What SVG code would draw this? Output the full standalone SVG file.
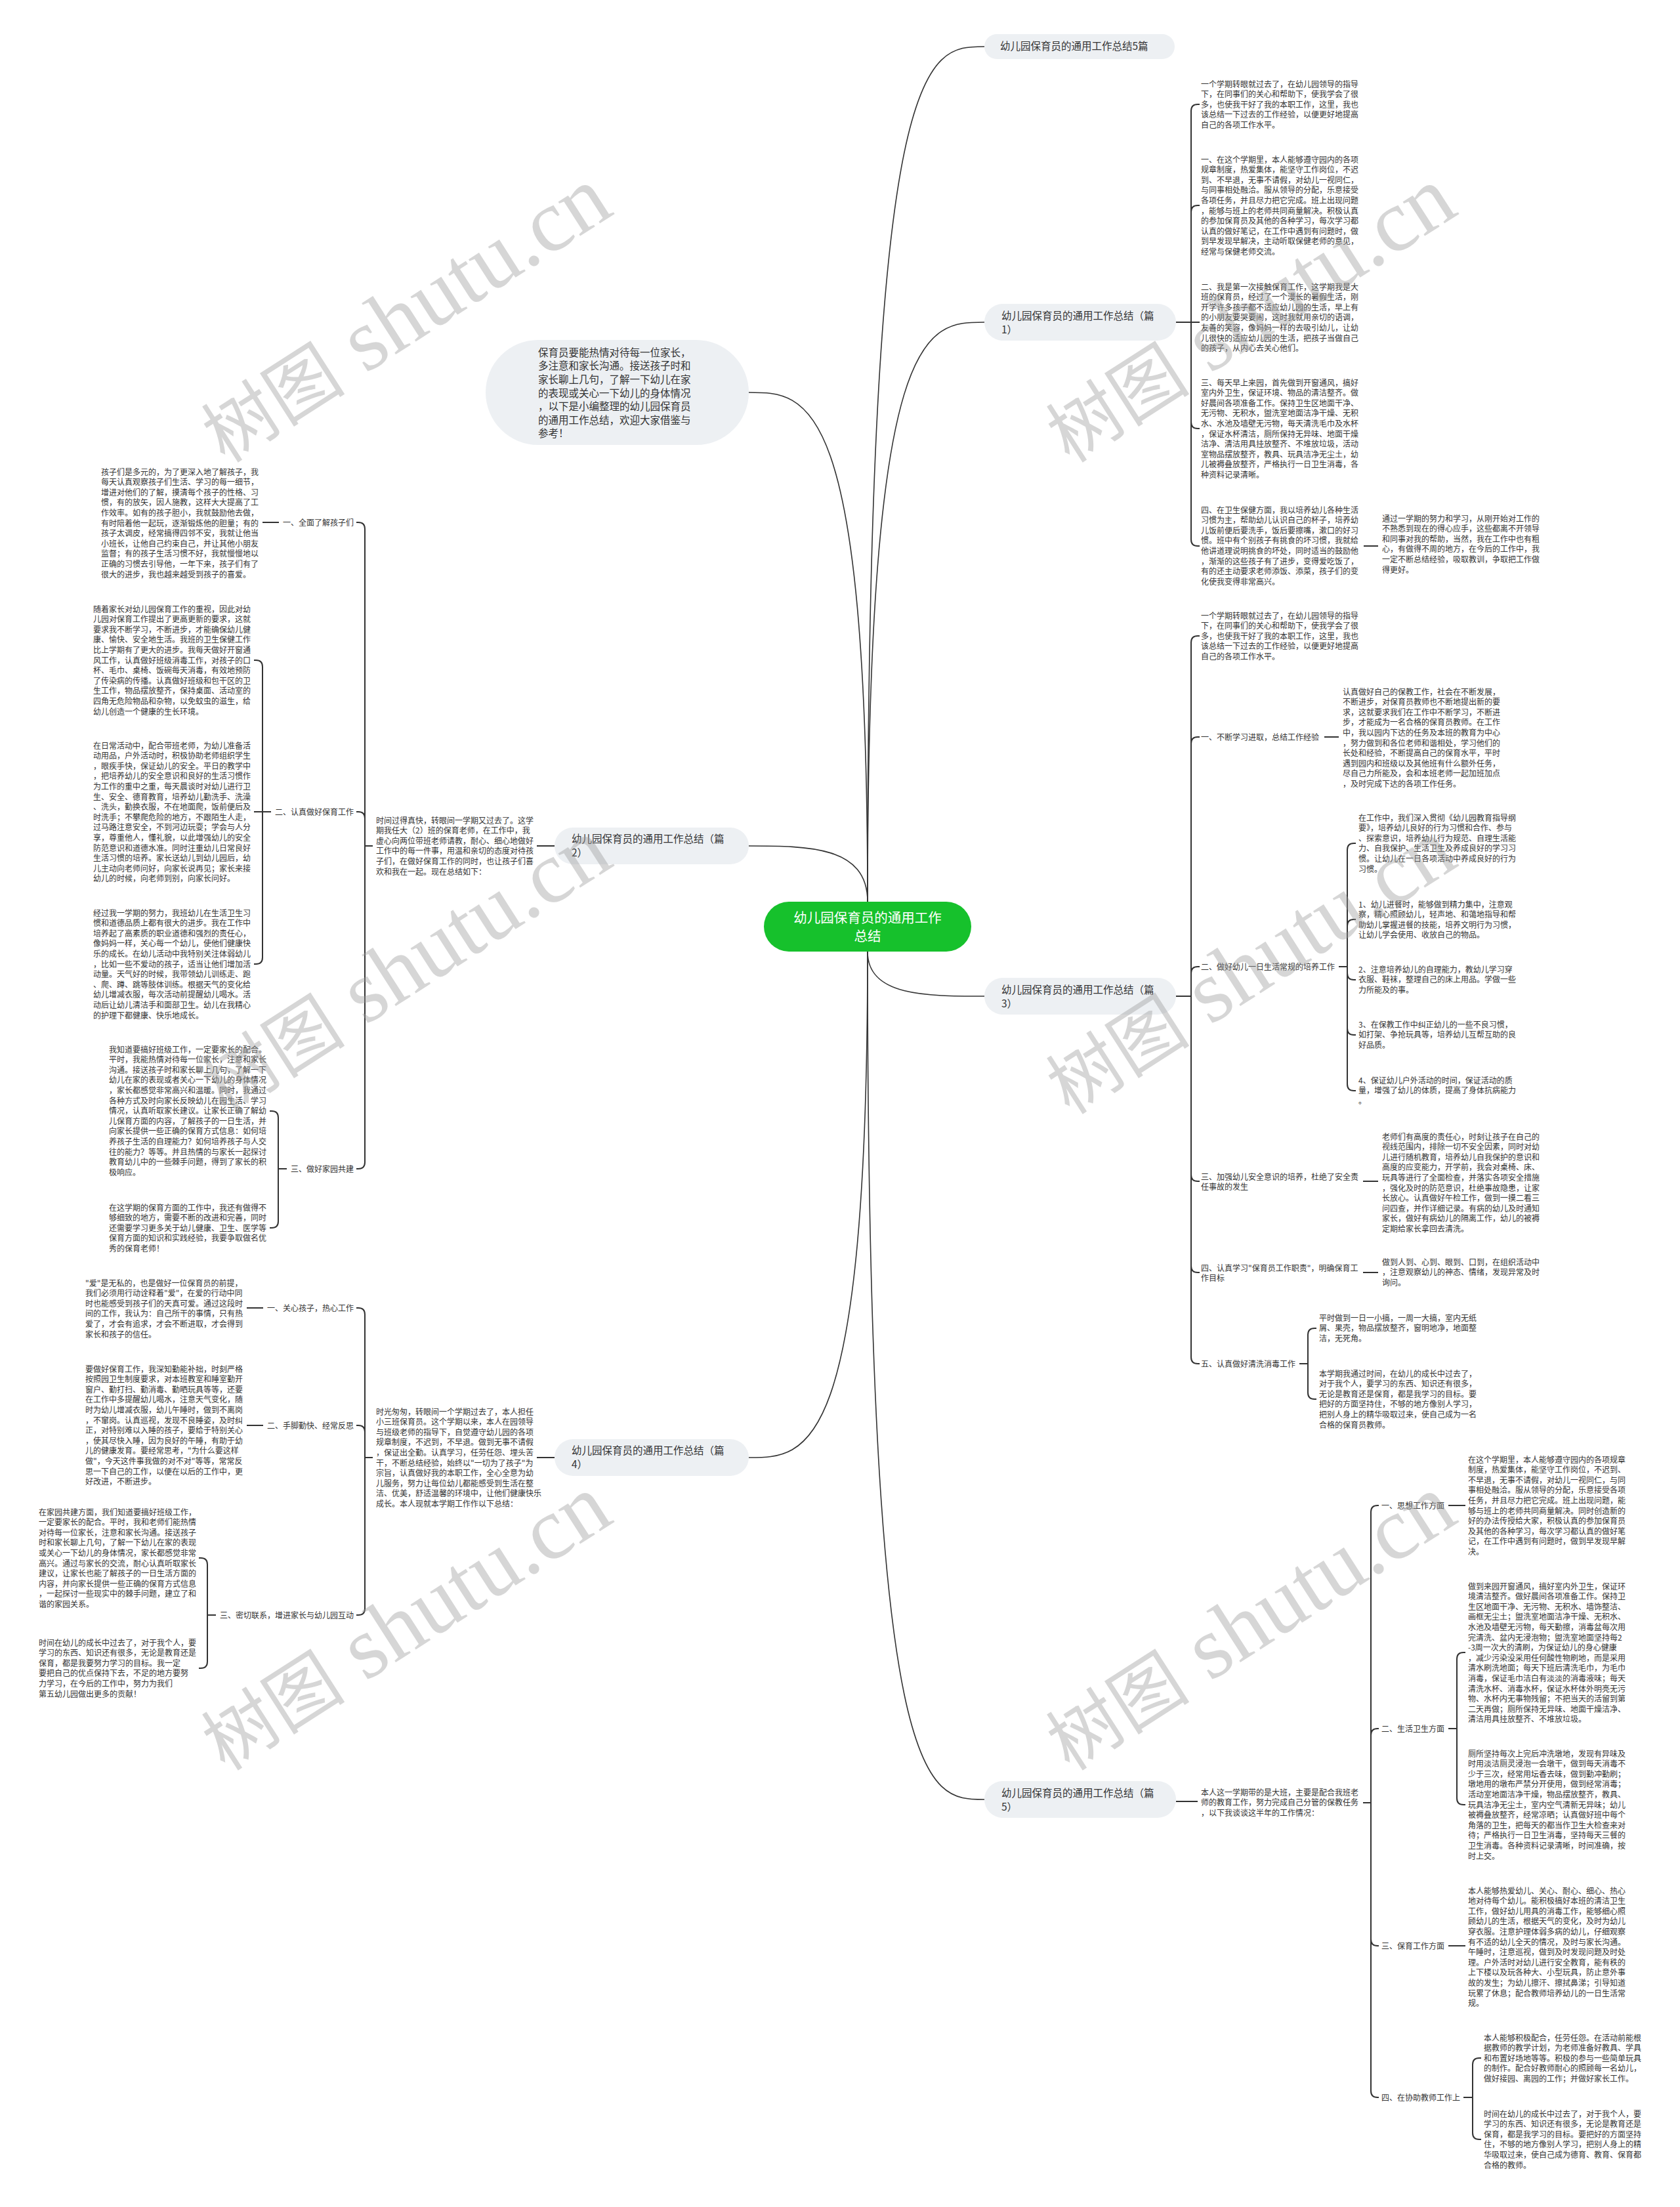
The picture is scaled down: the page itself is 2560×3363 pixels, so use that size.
<svg xmlns="http://www.w3.org/2000/svg" width="2560" height="3363" viewBox="0 0 2560 3363">
<style>
.t{font-family:"Noto Sans CJK SC","Noto Sans",sans-serif;font-size:12px;fill:#333}
.p{font-family:"Noto Sans CJK SC","Noto Sans",sans-serif;font-size:15.5px;fill:#333}
.c{font-family:"Noto Sans CJK SC","Noto Sans",sans-serif;font-size:20.5px;fill:#fff;text-anchor:middle}
.pill{fill:#edf0f3}
.ln{fill:none;stroke:#333;stroke-width:2}
.mc{fill:none;stroke:#333;stroke-width:1.6}
.wm{font-family:"Liberation Serif","Noto Sans CJK SC",serif;fill:#9a9a9a;opacity:0.4}
.e{text-anchor:end}
</style>
<rect width="2560" height="3363" fill="#fff"/>
<g id="connectors">
<path class="mc" d="M1322 1374 C1322 71 1411 71 1500 71"/>
<path class="mc" d="M1322 1374 C1322 491 1411 491 1500 491"/>
<path class="mc" d="M1322 1374 C1322 598 1231 598 1141 598"/>
<path class="mc" d="M1322 1374 C1322 1289 1231 1289 1141 1289"/>
<path class="mc" d="M1322 1450 C1322 1518 1411 1518 1500 1518"/>
<path class="mc" d="M1322 1450 C1322 2221 1231 2221 1141 2221"/>
<path class="mc" d="M1322 1450 C1322 2742 1411 2742 1500 2742"/>
<path class="ln" d="M1792 491 H1815 V169 Q1815 159 1825 159 H1828"/>
<path class="ln" d="M1792 491 H1815 V323 Q1815 313 1825 313 H1828"/>
<path class="ln" d="M1792 491 H1828"/>
<path class="ln" d="M1792 491 H1815 V643 Q1815 653 1825 653 H1828"/>
<path class="ln" d="M1792 491 H1815 V822 Q1815 832 1825 832 H1828"/>
<path class="ln" d="M2078 832 H2100"/>
<path class="ln" d="M1792 1518 H1815 V979 Q1815 969 1825 969 H1828"/>
<path class="ln" d="M1792 1518 H1815 V1133 Q1815 1123 1825 1123 H1828"/>
<path class="ln" d="M1792 1518 H1815 V1483 Q1815 1473 1825 1473 H1828"/>
<path class="ln" d="M1792 1518 H1815 V1790 Q1815 1800 1825 1800 H1828"/>
<path class="ln" d="M1792 1518 H1815 V1929 Q1815 1939 1825 1939 H1828"/>
<path class="ln" d="M1792 1518 H1815 V2068 Q1815 2078 1825 2078 H1828"/>
<path class="ln" d="M2018 1123 H2040"/>
<path class="ln" d="M2040 1473 H2053 V1295 Q2053 1285 2063 1285 H2066"/>
<path class="ln" d="M2040 1473 H2053 V1411 Q2053 1401 2063 1401 H2066"/>
<path class="ln" d="M2040 1473 H2053 V1483 Q2053 1493 2063 1493 H2066"/>
<path class="ln" d="M2040 1473 H2053 V1567 Q2053 1577 2063 1577 H2066"/>
<path class="ln" d="M2040 1473 H2053 V1652 Q2053 1662 2063 1662 H2066"/>
<path class="ln" d="M2077 1800 H2100"/>
<path class="ln" d="M2077 1939 H2100"/>
<path class="ln" d="M1980 2078 H1993 V2034 Q1993 2024 2003 2024 H2006"/>
<path class="ln" d="M1980 2078 H1993 V2122 Q1993 2132 2003 2132 H2006"/>
<path class="ln" d="M1792 2745 H1825"/>
<path class="ln" d="M2077 2747 H2089 V2304 Q2089 2294 2099 2294 H2101"/>
<path class="ln" d="M2077 2747 H2089 V2644 Q2089 2634 2099 2634 H2101"/>
<path class="ln" d="M2077 2747 H2089 V2955 Q2089 2965 2099 2965 H2101"/>
<path class="ln" d="M2077 2747 H2089 V3186 Q2089 3196 2099 3196 H2101"/>
<path class="ln" d="M2207 2294 H2233"/>
<path class="ln" d="M2207 2634 H2220 V2528 Q2220 2518 2230 2518 H2233"/>
<path class="ln" d="M2207 2634 H2220 V2740 Q2220 2750 2230 2750 H2233"/>
<path class="ln" d="M2207 2965 H2233"/>
<path class="ln" d="M2230 3196 H2244 V3146 Q2244 3136 2254 3136 H2257"/>
<path class="ln" d="M2230 3196 H2244 V3250 Q2244 3260 2254 3260 H2257"/>
<path class="ln" d="M845 1289 H818"/>
<path class="ln" d="M568 1289 H556 V806 Q556 796 546 796 H543"/>
<path class="ln" d="M568 1289 H556 V1247 Q556 1237 546 1237 H543"/>
<path class="ln" d="M568 1289 H556 V1771 Q556 1781 546 1781 H543"/>
<path class="ln" d="M425 796 H400"/>
<path class="ln" d="M413 1237 H400 V1016 Q400 1006 390 1006 H387"/>
<path class="ln" d="M413 1237 H387"/>
<path class="ln" d="M413 1237 H400 V1459 Q400 1469 390 1469 H387"/>
<path class="ln" d="M437 1781 H424 V1703 Q424 1693 414 1693 H411"/>
<path class="ln" d="M437 1781 H424 V1861 Q424 1871 414 1871 H411"/>
<path class="ln" d="M845 2221 H818"/>
<path class="ln" d="M568 2221 H556 V2003 Q556 1993 546 1993 H543"/>
<path class="ln" d="M568 2221 H556 V2182 Q556 2172 546 2172 H543"/>
<path class="ln" d="M568 2221 H556 V2451 Q556 2461 546 2461 H543"/>
<path class="ln" d="M401 1993 H376"/>
<path class="ln" d="M401 2172 H376"/>
<path class="ln" d="M329 2461 H316 V2384 Q316 2374 306 2374 H303"/>
<path class="ln" d="M329 2461 H316 V2532 Q316 2542 306 2542 H303"/>
</g>

<g id="center">
<rect x="1164" y="1374" width="316" height="76" rx="38" fill="#16c12c"/>
<text class="c" x="1322" y="1405.5">幼儿园保育员的通用工作</text>
<text class="c" x="1322" y="1433.5">总结</text>
</g>

<g id="intro">
<rect class="pill" x="740" y="518" width="401" height="160" rx="80"/>
<text class="p" x="820" y="542.8"><tspan x="820">保育员要能热情对待每一位家长，</tspan><tspan x="820" dy="20.6">多注意和家长沟通。接送孩子时和</tspan><tspan x="820" dy="20.6">家长聊上几句，了解一下幼儿在家</tspan><tspan x="820" dy="20.6">的表现或关心一下幼儿的身体情况</tspan><tspan x="820" dy="20.6">，以下是小编整理的幼儿园保育员</tspan><tspan x="820" dy="20.6">的通用工作总结，欢迎大家借鉴与</tspan><tspan x="820" dy="20.6">参考！</tspan></text>
</g>

<g id="title5">
<rect class="pill" x="1500" y="52" width="290" height="38" rx="19"/>
<text class="p" x="1524" y="75.8">幼儿园保育员的通用工作总结5篇</text>
</g>

<g id="sec1">
<rect class="pill" x="1500" y="463" width="292" height="56" rx="28"/>
<text class="p" x="1526" y="486.8"><tspan x="1526">幼儿园保育员的通用工作总结（篇</tspan><tspan x="1526" dy="21">1）</tspan></text>
</g>
<g id="s1b1"><text class="t" x="1830" y="132.5"><tspan x="1830">一个学期转眼就过去了，在幼儿园领导的指导</tspan><tspan x="1830" dy="15.6">下，在同事们的关心和帮助下，使我学会了很</tspan><tspan x="1830" dy="15.6">多，也使我干好了我的本职工作，这里，我也</tspan><tspan x="1830" dy="15.6">该总结一下过去的工作经验，以便更好地提高</tspan><tspan x="1830" dy="15.6">自己的各项工作水平。</tspan></text></g>
<g id="s1b2"><text class="t" x="1830" y="247.5"><tspan x="1830">一、在这个学期里，本人能够遵守园内的各项</tspan><tspan x="1830" dy="15.6">规章制度，热爱集体，能坚守工作岗位，不迟</tspan><tspan x="1830" dy="15.6">到、不早退，无事不请假，对幼儿一视同仁，</tspan><tspan x="1830" dy="15.6">与同事相处融洽。服从领导的分配，乐意接受</tspan><tspan x="1830" dy="15.6">各项任务，并且尽力把它完成。班上出现问题</tspan><tspan x="1830" dy="15.6">，能够与班上的老师共同商量解决。积极认真</tspan><tspan x="1830" dy="15.6">的参加保育员及其他的各种学习，每次学习都</tspan><tspan x="1830" dy="15.6">认真的做好笔记，在工作中遇到有问题时，做</tspan><tspan x="1830" dy="15.6">到早发现早解决，主动听取保健老师的意见，</tspan><tspan x="1830" dy="15.6">经常与保健老师交流。</tspan></text></g>
<g id="s1b3"><text class="t" x="1830" y="441.5"><tspan x="1830">二、我是第一次接触保育工作，这学期我是大</tspan><tspan x="1830" dy="15.6">班的保育员，经过了一个漫长的暑假生活，刚</tspan><tspan x="1830" dy="15.6">开学许多孩子都不适应幼儿园的生活，早上有</tspan><tspan x="1830" dy="15.6">的小朋友要哭要闹，这时我就用亲切的语调，</tspan><tspan x="1830" dy="15.6">友善的笑容，像妈妈一样的去吸引幼儿，让幼</tspan><tspan x="1830" dy="15.6">儿很快的适应幼儿园的生活，把孩子当做自己</tspan><tspan x="1830" dy="15.6">的孩子，从内心去关心他们。</tspan></text></g>
<g id="s1b4"><text class="t" x="1830" y="587.5"><tspan x="1830">三、每天早上来园，首先做到开窗通风，搞好</tspan><tspan x="1830" dy="15.6">室内外卫生，保证环境、物品的清洁整齐。做</tspan><tspan x="1830" dy="15.6">好晨间各项准备工作。保持卫生区地面干净、</tspan><tspan x="1830" dy="15.6">无污物、无积水，盥洗室地面洁净干燥、无积</tspan><tspan x="1830" dy="15.6">水、水池及墙壁无污物，每天清洗毛巾及水杯</tspan><tspan x="1830" dy="15.6">，保证水杯清洁，厕所保持无异味、地面干燥</tspan><tspan x="1830" dy="15.6">洁净、清洁用具挂放整齐、不堆放垃圾，活动</tspan><tspan x="1830" dy="15.6">室物品摆放整齐，教具、玩具洁净无尘土，幼</tspan><tspan x="1830" dy="15.6">儿被褥叠放整齐，严格执行一日卫生消毒，各</tspan><tspan x="1830" dy="15.6">种资料记录清晰。</tspan></text></g>
<g id="s1b5"><text class="t" x="1830" y="781.5"><tspan x="1830">四、在卫生保健方面，我以培养幼儿各种生活</tspan><tspan x="1830" dy="15.6">习惯为主，帮助幼儿认识自己的杯子，培养幼</tspan><tspan x="1830" dy="15.6">儿饭前便后要洗手，饭后要擦嘴，漱口的好习</tspan><tspan x="1830" dy="15.6">惯。班中有个别孩子有挑食的坏习惯，我就给</tspan><tspan x="1830" dy="15.6">他讲道理说明挑食的坏处，同时适当的鼓励他</tspan><tspan x="1830" dy="15.6">，渐渐的这些孩子有了进步，变得爱吃饭了，</tspan><tspan x="1830" dy="15.6">有的还主动要求老师添饭、添菜，孩子们的变</tspan><tspan x="1830" dy="15.6">化使我变得非常高兴。</tspan></text></g>
<g id="s1b6"><text class="t" x="2106" y="794.5"><tspan x="2106">通过一学期的努力和学习，从刚开始对工作的</tspan><tspan x="2106" dy="15.6">不熟悉到现在的得心应手，这些都离不开领导</tspan><tspan x="2106" dy="15.6">和同事对我的帮助，当然，我在工作中也有粗</tspan><tspan x="2106" dy="15.6">心，有做得不周的地方，在今后的工作中，我</tspan><tspan x="2106" dy="15.6">一定不断总结经验，吸取教训，争取把工作做</tspan><tspan x="2106" dy="15.6">得更好。</tspan></text></g>

<g id="sec3">
<rect class="pill" x="1500" y="1490" width="292" height="56" rx="28"/>
<text class="p" x="1526" y="1513.8"><tspan x="1526">幼儿园保育员的通用工作总结（篇</tspan><tspan x="1526" dy="21">3）</tspan></text>
</g>
<g id="s3c1"><text class="t" x="1830" y="942.5"><tspan x="1830">一个学期转眼就过去了，在幼儿园领导的指导</tspan><tspan x="1830" dy="15.6">下，在同事们的关心和帮助下，使我学会了很</tspan><tspan x="1830" dy="15.6">多，也使我干好了我的本职工作，这里，我也</tspan><tspan x="1830" dy="15.6">该总结一下过去的工作经验，以便更好地提高</tspan><tspan x="1830" dy="15.6">自己的各项工作水平。</tspan></text></g>
<g id="s3l1"><text class="t" x="1830" y="1127.5">一、不断学习进取，总结工作经验</text></g>
<g id="s3l1t"><text class="t" x="2046" y="1058.5"><tspan x="2046">认真做好自己的保教工作，社会在不断发展，</tspan><tspan x="2046" dy="15.6">不断进步，对保育员教师也不断地提出新的要</tspan><tspan x="2046" dy="15.6">求，这就要求我们在工作中不断学习，不断进</tspan><tspan x="2046" dy="15.6">步，才能成为一名合格的保育员教师。在工作</tspan><tspan x="2046" dy="15.6">中，我以园内下达的任务及本班的教育为中心</tspan><tspan x="2046" dy="15.6">，努力做到和各位老师和谐相处，学习他们的</tspan><tspan x="2046" dy="15.6">长处和经验，不断提高自己的保育水平，平时</tspan><tspan x="2046" dy="15.6">遇到园内和班级以及其他班有什么额外任务，</tspan><tspan x="2046" dy="15.6">尽自己力所能及，会和本班老师一起加班加点</tspan><tspan x="2046" dy="15.6">，及时完成下达的各项工作任务。</tspan></text></g>
<g id="s3l2"><text class="t" x="1830" y="1477.5">二、做好幼儿一日生活常规的培养工作</text></g>
<g id="s3l2a"><text class="t" x="2070" y="1250.5"><tspan x="2070">在工作中，我们深入贯彻《幼儿园教育指导纲</tspan><tspan x="2070" dy="15.6">要》，培养幼儿良好的行为习惯和合作、参与</tspan><tspan x="2070" dy="15.6">、探索意识，培养幼儿行为规范、自理生活能</tspan><tspan x="2070" dy="15.6">力、自我保护、生活卫生及养成良好的学习习</tspan><tspan x="2070" dy="15.6">惯。让幼儿在一日各项活动中养成良好的行为</tspan><tspan x="2070" dy="15.6">习惯。</tspan></text></g>
<g id="s3l2b"><text class="t" x="2070" y="1382.5"><tspan x="2070">1、幼儿进餐时，能够做到精力集中，注意观</tspan><tspan x="2070" dy="15.6">察，精心照顾幼儿，轻声地、和蔼地指导和帮</tspan><tspan x="2070" dy="15.6">助幼儿掌握进餐的技能，培养文明行为习惯，</tspan><tspan x="2070" dy="15.6">让幼儿学会使用、收放自己的物品。</tspan></text></g>
<g id="s3l2c"><text class="t" x="2070" y="1481.5"><tspan x="2070">2、注意培养幼儿的自理能力，教幼儿学习穿</tspan><tspan x="2070" dy="15.6">衣服、鞋袜，整理自己的床上用品。学做一些</tspan><tspan x="2070" dy="15.6">力所能及的事。</tspan></text></g>
<g id="s3l2d"><text class="t" x="2070" y="1565.5"><tspan x="2070">3、在保教工作中纠正幼儿的一些不良习惯，</tspan><tspan x="2070" dy="15.6">如打架、争抢玩具等，培养幼儿互帮互助的良</tspan><tspan x="2070" dy="15.6">好品质。</tspan></text></g>
<g id="s3l2e"><text class="t" x="2070" y="1650.5"><tspan x="2070">4、保证幼儿户外活动的时间，保证活动的质</tspan><tspan x="2070" dy="15.6">量，增强了幼儿的体质，提高了身体抗病能力</tspan><tspan x="2070" dy="15.6">。</tspan></text></g>
<g id="s3l3"><text class="t" x="1830" y="1797.5"><tspan x="1830">三、加强幼儿安全意识的培养，杜绝了安全责</tspan><tspan x="1830" dy="15.6">任事故的发生</tspan></text></g>
<g id="s3l3t"><text class="t" x="2106" y="1736.5"><tspan x="2106">老师们有高度的责任心，时刻让孩子在自己的</tspan><tspan x="2106" dy="15.6">视线范围内，排除一切不安全因素，同时对幼</tspan><tspan x="2106" dy="15.6">儿进行随机教育，培养幼儿自我保护的意识和</tspan><tspan x="2106" dy="15.6">高度的应变能力，开学前，我会对桌椅、床、</tspan><tspan x="2106" dy="15.6">玩具等进行了全面检查，并落实各项安全措施</tspan><tspan x="2106" dy="15.6">，强化及时的防范意识，杜绝事故隐患，让家</tspan><tspan x="2106" dy="15.6">长放心。认真做好午检工作，做到一摸二看三</tspan><tspan x="2106" dy="15.6">问四查，并作详细记录。有病的幼儿及时通知</tspan><tspan x="2106" dy="15.6">家长，做好有病幼儿的隔离工作，幼儿的被褥</tspan><tspan x="2106" dy="15.6">定期给家长拿回去清洗。</tspan></text></g>
<g id="s3l4"><text class="t" x="1830" y="1936.5"><tspan x="1830">四、认真学习"保育员工作职责"，明确保育工</tspan><tspan x="1830" dy="15.6">作目标</tspan></text></g>
<g id="s3l4t"><text class="t" x="2106" y="1927.5"><tspan x="2106">做到人到、心到、眼到、口到，在组织活动中</tspan><tspan x="2106" dy="15.6">，注意观察幼儿的神态、情绪，发现异常及时</tspan><tspan x="2106" dy="15.6">询问。</tspan></text></g>
<g id="s3l5"><text class="t" x="1830" y="2082.5">五、认真做好清洗消毒工作</text></g>
<g id="s3l5a"><text class="t" x="2010" y="2012.5"><tspan x="2010">平时做到一日一小搞，一周一大搞，室内无纸</tspan><tspan x="2010" dy="15.6">屑、果壳，物品摆放整齐，窗明地净，地面整</tspan><tspan x="2010" dy="15.6">洁，无死角。</tspan></text></g>
<g id="s3l5b"><text class="t" x="2010" y="2097.5"><tspan x="2010">本学期我通过时间，在幼儿的成长中过去了，</tspan><tspan x="2010" dy="15.6">对于我个人，要学习的东西、知识还有很多，</tspan><tspan x="2010" dy="15.6">无论是教育还是保育，都是我学习的目标。要</tspan><tspan x="2010" dy="15.6">把好的方面坚持住，不够的地方像别人学习，</tspan><tspan x="2010" dy="15.6">把别人身上的精华吸取过来，使自己成为一名</tspan><tspan x="2010" dy="15.6">合格的保育员教师。</tspan></text></g>

<g id="sec5">
<rect class="pill" x="1500" y="2714" width="292" height="56" rx="28"/>
<text class="p" x="1526" y="2737.8"><tspan x="1526">幼儿园保育员的通用工作总结（篇</tspan><tspan x="1526" dy="21">5）</tspan></text>
</g>
<g id="s5i"><text class="t" x="1830" y="2735.5"><tspan x="1830">本人这一学期带的是大班，主要是配合我班老</tspan><tspan x="1830" dy="15.6">师的教育工作，努力完成自己分管的保教任务</tspan><tspan x="1830" dy="15.6">，以下我谈谈这半年的工作情况：</tspan></text></g>
<g id="s5l1"><text class="t" x="2105" y="2298.5">一、思想工作方面</text></g>
<g id="s5l1t"><text class="t" x="2237" y="2228.5"><tspan x="2237">在这个学期里，本人能够遵守园内的各项规章</tspan><tspan x="2237" dy="15.6">制度，热爱集体，能坚守工作岗位，不迟到、</tspan><tspan x="2237" dy="15.6">不早退，无事不请假，对幼儿一视同仁，与同</tspan><tspan x="2237" dy="15.6">事相处融洽。服从领导的分配，乐意接受各项</tspan><tspan x="2237" dy="15.6">任务，并且尽力把它完成。班上出现问题，能</tspan><tspan x="2237" dy="15.6">够与班上的老师共同商量解决。同时创造新的</tspan><tspan x="2237" dy="15.6">好的办法传授给大家，积极认真的参加保育员</tspan><tspan x="2237" dy="15.6">及其他的各种学习，每次学习都认真的做好笔</tspan><tspan x="2237" dy="15.6">记，在工作中遇到有问题时，做到早发现早解</tspan><tspan x="2237" dy="15.6">决。</tspan></text></g>
<g id="s5l2"><text class="t" x="2105" y="2638.5">二、生活卫生方面</text></g>
<g id="s5l2a"><text class="t" x="2237" y="2421.5"><tspan x="2237">做到来园开窗通风，搞好室内外卫生，保证环</tspan><tspan x="2237" dy="15.6">境清洁整齐。做好晨间各项准备工作。保持卫</tspan><tspan x="2237" dy="15.6">生区地面干净、无污物、无积水、墙饰整洁、</tspan><tspan x="2237" dy="15.6">画框无尘土；盥洗室地面洁净干燥、无积水、</tspan><tspan x="2237" dy="15.6">水池及墙壁无污物，每天勤擦，消毒盆每次用</tspan><tspan x="2237" dy="15.6">完清洗、盆内无浸泡物；盥洗室地面坚持每2</tspan><tspan x="2237" dy="15.6">-3周一次大的清刷，为保证幼儿的身心健康</tspan><tspan x="2237" dy="15.6">，减少污染没采用任何酸性物刷地，而是采用</tspan><tspan x="2237" dy="15.6">清水刷洗地面；每天下班后清洗毛巾，为毛巾</tspan><tspan x="2237" dy="15.6">消毒，保证毛巾洁白有淡淡的消毒液味；每天</tspan><tspan x="2237" dy="15.6">清洗水杯、消毒水杯，保证水杯体外明亮无污</tspan><tspan x="2237" dy="15.6">物、水杯内无事物残留；不把当天的活留到第</tspan><tspan x="2237" dy="15.6">二天再做；厕所保持无异味、地面干燥洁净、</tspan><tspan x="2237" dy="15.6">清洁用具挂放整齐、不堆放垃圾。</tspan></text></g>
<g id="s5l2b"><text class="t" x="2237" y="2676.5"><tspan x="2237">厕所坚持每次上完后冲洗墩地，发现有异味及</tspan><tspan x="2237" dy="15.6">时用淡洁厕灵浸泡一会墩干，做到每天消毒不</tspan><tspan x="2237" dy="15.6">少于三次，经常用坛香去味，做到勤冲勤刷；</tspan><tspan x="2237" dy="15.6">墩地用的墩布严禁分开使用，做到经常消毒；</tspan><tspan x="2237" dy="15.6">活动室地面洁净干燥，物品摆放整齐，教具、</tspan><tspan x="2237" dy="15.6">玩具洁净无尘土，室内空气清新无异味；幼儿</tspan><tspan x="2237" dy="15.6">被褥叠放整齐，经常凉晒；认真做好班中每个</tspan><tspan x="2237" dy="15.6">角落的卫生，把每天的都当作卫生大检查来对</tspan><tspan x="2237" dy="15.6">待；严格执行一日卫生消毒，坚持每天三餐的</tspan><tspan x="2237" dy="15.6">卫生消毒。各种资料记录清晰，时间准确，按</tspan><tspan x="2237" dy="15.6">时上交。</tspan></text></g>
<g id="s5l3"><text class="t" x="2105" y="2969.5">三、保育工作方面</text></g>
<g id="s5l3t"><text class="t" x="2237" y="2885.5"><tspan x="2237">本人能够热爱幼儿、关心、耐心、细心、热心</tspan><tspan x="2237" dy="15.6">地对待每个幼儿。能积极搞好本班的清洁卫生</tspan><tspan x="2237" dy="15.6">工作，做好幼儿用具的消毒工作，能够细心照</tspan><tspan x="2237" dy="15.6">顾幼儿的生活，根据天气的变化，及时为幼儿</tspan><tspan x="2237" dy="15.6">穿衣服。注意护理体弱多病的幼儿，仔细观察</tspan><tspan x="2237" dy="15.6">有不适的幼儿全天的情况，及时与家长沟通。</tspan><tspan x="2237" dy="15.6">午睡时，注意巡视，做到及时发现问题及时处</tspan><tspan x="2237" dy="15.6">理。户外活时对幼儿进行安全教育，能有秩的</tspan><tspan x="2237" dy="15.6">上下楼以及玩各种大、小型玩具，防止意外事</tspan><tspan x="2237" dy="15.6">故的发生；为幼儿擦汗、擦拭鼻涕；引导知道</tspan><tspan x="2237" dy="15.6">玩累了休息；配合教师培养幼儿的一日生活常</tspan><tspan x="2237" dy="15.6">规。</tspan></text></g>
<g id="s5l4"><text class="t" x="2105" y="3200.5">四、在协助教师工作上</text></g>
<g id="s5l4a"><text class="t" x="2261" y="3109.5"><tspan x="2261">本人能够积极配合，任劳任怨。在活动前能根</tspan><tspan x="2261" dy="15.6">据教师的教学计划，为老师准备好教具、学具</tspan><tspan x="2261" dy="15.6">和布置好场地等等。积极的参与一些简单玩具</tspan><tspan x="2261" dy="15.6">的制作。配合好教师耐心的照顾每一名幼儿，</tspan><tspan x="2261" dy="15.6">做好接园、离园的工作；并做好家长工作。</tspan></text></g>
<g id="s5l4b"><text class="t" x="2261" y="3225.5"><tspan x="2261">时间在幼儿的成长中过去了，对于我个人，要</tspan><tspan x="2261" dy="15.6">学习的东西、知识还有很多，无论是教育还是</tspan><tspan x="2261" dy="15.6">保育，都是我学习的目标。要把好的方面坚持</tspan><tspan x="2261" dy="15.6">住，不够的地方像别人学习，把别人身上的精</tspan><tspan x="2261" dy="15.6">华吸取过来，使自己成为德育、教育、保育都</tspan><tspan x="2261" dy="15.6">合格的教师。</tspan></text></g>

<g id="sec2">
<rect class="pill" x="845" y="1261" width="296" height="56" rx="28"/>
<text class="p" x="871" y="1283.8"><tspan x="871">幼儿园保育员的通用工作总结（篇</tspan><tspan x="871" dy="21">2）</tspan></text>
</g>
<g id="s2i"><text class="t" x="573" y="1254.5"><tspan x="573">时间过得真快，转眼间一学期又过去了。这学</tspan><tspan x="573" dy="15.6">期我任大（2）班的保育老师，在工作中，我</tspan><tspan x="573" dy="15.6">虚心向两位带班老师请教，耐心、细心地做好</tspan><tspan x="573" dy="15.6">工作中的每一件事，用温和亲切的态度对待孩</tspan><tspan x="573" dy="15.6">子们，在做好保育工作的同时，也让孩子们喜</tspan><tspan x="573" dy="15.6">欢和我在一起。现在总结如下：</tspan></text></g>
<g id="s2l1"><text class="t e" x="539" y="800.5">一、全面了解孩子们</text></g>
<g id="s2l1t"><text class="t" x="154" y="723.5"><tspan x="154">孩子们是多元的，为了更深入地了解孩子，我</tspan><tspan x="154" dy="15.6">每天认真观察孩子们生活、学习的每一细节，</tspan><tspan x="154" dy="15.6">增进对他们的了解，摸清每个孩子的性格、习</tspan><tspan x="154" dy="15.6">惯，有的放矢，因人施教，这样大大提高了工</tspan><tspan x="154" dy="15.6">作效率。如有的孩子胆小，我就鼓励他去做，</tspan><tspan x="154" dy="15.6">有时陪着他一起玩，逐渐锻炼他的胆量；有的</tspan><tspan x="154" dy="15.6">孩子太调皮，经常搞得四邻不安，我就让他当</tspan><tspan x="154" dy="15.6">小班长，让他自己约束自己，并让其他小朋友</tspan><tspan x="154" dy="15.6">监督；有的孩子生活习惯不好，我就慢慢地以</tspan><tspan x="154" dy="15.6">正确的习惯去引导他，一年下来，孩子们有了</tspan><tspan x="154" dy="15.6">很大的进步，我也越来越受到孩子的喜爱。</tspan></text></g>
<g id="s2l2"><text class="t e" x="539" y="1241.5">二、认真做好保育工作</text></g>
<g id="s2l2a"><text class="t" x="142" y="932.5"><tspan x="142">随着家长对幼儿园保育工作的重视，因此对幼</tspan><tspan x="142" dy="15.6">儿园对保育工作提出了更高更新的要求，这就</tspan><tspan x="142" dy="15.6">要求我不断学习，不断进步，才能确保幼儿健</tspan><tspan x="142" dy="15.6">康、愉快、安全地生活。我班的卫生保健工作</tspan><tspan x="142" dy="15.6">比上学期有了更大的进步。我每天做好开窗通</tspan><tspan x="142" dy="15.6">风工作，认真做好班级消毒工作，对孩子的口</tspan><tspan x="142" dy="15.6">杯、毛巾、桌椅、饭碗每天消毒，有效地预防</tspan><tspan x="142" dy="15.6">了传染病的传播。认真做好班级和包干区的卫</tspan><tspan x="142" dy="15.6">生工作，物品摆放整齐，保持桌面、活动室的</tspan><tspan x="142" dy="15.6">四角无危险物品和杂物，以免蚊虫的滋生，给</tspan><tspan x="142" dy="15.6">幼儿创造一个健康的生长环境。</tspan></text></g>
<g id="s2l2b"><text class="t" x="142" y="1140.5"><tspan x="142">在日常活动中，配合带班老师，为幼儿准备活</tspan><tspan x="142" dy="15.6">动用品，户外活动时，积极协助老师组织学生</tspan><tspan x="142" dy="15.6">，眼疾手快，保证幼儿的安全。平日的教学中</tspan><tspan x="142" dy="15.6">，把培养幼儿的安全意识和良好的生活习惯作</tspan><tspan x="142" dy="15.6">为工作的重中之重，每天晨谈时对幼儿进行卫</tspan><tspan x="142" dy="15.6">生、安全、德育教育，培养幼儿勤洗手、洗澡</tspan><tspan x="142" dy="15.6">、洗头，勤换衣服，不在地面爬，饭前便后及</tspan><tspan x="142" dy="15.6">时洗手；不攀爬危险的地方，不跟陌生人走，</tspan><tspan x="142" dy="15.6">过马路注意安全，不到河边玩耍；学会与人分</tspan><tspan x="142" dy="15.6">享，尊重他人，懂礼貌，以此增强幼儿的安全</tspan><tspan x="142" dy="15.6">防范意识和道德水准。同时注重幼儿日常良好</tspan><tspan x="142" dy="15.6">生活习惯的培养。家长送幼儿到幼儿园后，幼</tspan><tspan x="142" dy="15.6">儿主动向老师问好，向家长说再见；家长来接</tspan><tspan x="142" dy="15.6">幼儿的时候，向老师到别，向家长问好。</tspan></text></g>
<g id="s2l2c"><text class="t" x="142" y="1395.5"><tspan x="142">经过我一学期的努力，我班幼儿在生活卫生习</tspan><tspan x="142" dy="15.6">惯和道德品质上都有很大的进步。我在工作中</tspan><tspan x="142" dy="15.6">培养起了高素质的职业道德和强烈的责任心，</tspan><tspan x="142" dy="15.6">像妈妈一样，关心每一个幼儿，使他们健康快</tspan><tspan x="142" dy="15.6">乐的成长。在幼儿活动中我特别关注体弱幼儿</tspan><tspan x="142" dy="15.6">，比如一些不爱动的孩子，适当让他们增加活</tspan><tspan x="142" dy="15.6">动量。天气好的时候，我带领幼儿训练走、跑</tspan><tspan x="142" dy="15.6">、爬、蹲、跳等肢体训练。根据天气的变化给</tspan><tspan x="142" dy="15.6">幼儿增减衣服，每次活动前提醒幼儿喝水。活</tspan><tspan x="142" dy="15.6">动后让幼儿清洁手和面部卫生。幼儿在我精心</tspan><tspan x="142" dy="15.6">的护理下都健康、快乐地成长。</tspan></text></g>
<g id="s2l3"><text class="t e" x="539" y="1785.5">三、做好家园共建</text></g>
<g id="s2l3a"><text class="t" x="166" y="1603.5"><tspan x="166">我知道要搞好班级工作，一定要家长的配合。</tspan><tspan x="166" dy="15.6">平时，我能热情对待每一位家长，注意和家长</tspan><tspan x="166" dy="15.6">沟通。接送孩子时和家长聊上几句，了解一下</tspan><tspan x="166" dy="15.6">幼儿在家的表现或者关心一下幼儿的身体情况</tspan><tspan x="166" dy="15.6">，家长都感觉非常高兴和温暖。同时，我通过</tspan><tspan x="166" dy="15.6">各种方式及时向家长反映幼儿在园生活、学习</tspan><tspan x="166" dy="15.6">情况，认真听取家长建议。让家长正确了解幼</tspan><tspan x="166" dy="15.6">儿保育方面的内容，了解孩子的一日生活，并</tspan><tspan x="166" dy="15.6">向家长提供一些正确的保育方式信息：如何培</tspan><tspan x="166" dy="15.6">养孩子生活的自理能力？如何培养孩子与人交</tspan><tspan x="166" dy="15.6">往的能力？等等。并且热情的与家长一起探讨</tspan><tspan x="166" dy="15.6">教育幼儿中的一些棘手问题，得到了家长的积</tspan><tspan x="166" dy="15.6">极响应。</tspan></text></g>
<g id="s2l3b"><text class="t" x="166" y="1844.5"><tspan x="166">在这学期的保育方面的工作中，我还有做得不</tspan><tspan x="166" dy="15.6">够细致的地方，需要不断的改进和完善，同时</tspan><tspan x="166" dy="15.6">还需要学习更多关于幼儿健康、卫生、医学等</tspan><tspan x="166" dy="15.6">保育方面的知识和实践经验，我要争取做名优</tspan><tspan x="166" dy="15.6">秀的保育老师！</tspan></text></g>

<g id="sec4">
<rect class="pill" x="845" y="2193" width="296" height="56" rx="28"/>
<text class="p" x="871" y="2215.8"><tspan x="871">幼儿园保育员的通用工作总结（篇</tspan><tspan x="871" dy="21">4）</tspan></text>
</g>
<g id="s4i"><text class="t" x="573" y="2155.5"><tspan x="573">时光匆匆，转眼间一个学期过去了，本人担任</tspan><tspan x="573" dy="15.6">小三班保育员。这个学期以来，本人在园领导</tspan><tspan x="573" dy="15.6">与班级老师的指导下，自觉遵守幼儿园的各项</tspan><tspan x="573" dy="15.6">规章制度，不迟到，不早退。做到无事不请假</tspan><tspan x="573" dy="15.6">，保证出全勤。认真学习，任劳任怨、埋头苦</tspan><tspan x="573" dy="15.6">干，不断总结经验，始终以"一切为了孩子"为</tspan><tspan x="573" dy="15.6">宗旨，认真做好我的本职工作，全心全意为幼</tspan><tspan x="573" dy="15.6">儿服务，努力让每位幼儿都能感受到生活在整</tspan><tspan x="573" dy="15.6">洁、优美，舒适温馨的环境中，让他们健康快乐</tspan><tspan x="573" dy="15.6">成长。本人现就本学期工作作以下总结：</tspan></text></g>
<g id="s4l1"><text class="t e" x="539" y="1997.5">一、关心孩子，热心工作</text></g>
<g id="s4l1t"><text class="t" x="130" y="1959.5"><tspan x="130">"爱"是无私的，也是做好一位保育员的前提，</tspan><tspan x="130" dy="15.6">我们必须用行动诠释着"爱"，在爱的行动中同</tspan><tspan x="130" dy="15.6">时也能感受到孩子们的天真可爱。通过这段时</tspan><tspan x="130" dy="15.6">间的工作，我认为：自己所干的事情，只有热</tspan><tspan x="130" dy="15.6">爱了，才会有追求，才会不断进取，才会得到</tspan><tspan x="130" dy="15.6">家长和孩子的信任。</tspan></text></g>
<g id="s4l2"><text class="t e" x="539" y="2176.5">二、手脚勤快、经常反思</text></g>
<g id="s4l2t"><text class="t" x="130" y="2090.5"><tspan x="130">要做好保育工作，我深知勤能补拙，时刻严格</tspan><tspan x="130" dy="15.6">按照园卫生制度要求，对本班教室和睡室勤开</tspan><tspan x="130" dy="15.6">窗户、勤打扫、勤消毒、勤晒玩具等等，还要</tspan><tspan x="130" dy="15.6">在工作中多提醒幼儿喝水，注意天气变化，随</tspan><tspan x="130" dy="15.6">时为幼儿增减衣服，幼儿午睡时，做到不离岗</tspan><tspan x="130" dy="15.6">，不窜岗。认真巡视，发现不良睡姿，及时纠</tspan><tspan x="130" dy="15.6">正，对特别难以入睡的孩子，要给于特别关心</tspan><tspan x="130" dy="15.6">，使其尽快入睡，因为良好的午睡，有助于幼</tspan><tspan x="130" dy="15.6">儿的健康发育。要经常思考，"为什么要这样</tspan><tspan x="130" dy="15.6">做"，今天这件事我做的对不对"等等，常常反</tspan><tspan x="130" dy="15.6">思一下自己的工作，以便在以后的工作中，更</tspan><tspan x="130" dy="15.6">好改进，不断进步。</tspan></text></g>
<g id="s4l3"><text class="t e" x="539" y="2465.5">三、密切联系，增进家长与幼儿园互动</text></g>
<g id="s4l3a"><text class="t" x="59" y="2308.5"><tspan x="59">在家园共建方面，我们知道要搞好班级工作，</tspan><tspan x="59" dy="15.6">一定要家长的配合。平时，我和老师们能热情</tspan><tspan x="59" dy="15.6">对待每一位家长，注意和家长沟通。接送孩子</tspan><tspan x="59" dy="15.6">时和家长聊上几句，了解一下幼儿在家的表现</tspan><tspan x="59" dy="15.6">或关心一下幼儿的身体情况，家长都感觉非常</tspan><tspan x="59" dy="15.6">高兴。通过与家长的交流，耐心认真听取家长</tspan><tspan x="59" dy="15.6">建议，让家长也能了解孩子的一日生活方面的</tspan><tspan x="59" dy="15.6">内容，并向家长提供一些正确的保育方式信息</tspan><tspan x="59" dy="15.6">，一起探讨一些现实中的棘手问题，建立了和</tspan><tspan x="59" dy="15.6">谐的家园关系。</tspan></text></g>
<g id="s4l3b"><text class="t" x="59" y="2507.5"><tspan x="59">时间在幼儿的成长中过去了，对于我个人，要</tspan><tspan x="59" dy="15.6">学习的东西、知识还有很多，无论是教育还是</tspan><tspan x="59" dy="15.6">保育，都是我要努力学习的目标。我一定</tspan><tspan x="59" dy="15.6">要把自己的优点保持下去，不足的地方要努</tspan><tspan x="59" dy="15.6">力学习，在今后的工作中，努力为我们</tspan><tspan x="59" dy="15.6">第五幼儿园做出更多的贡献！</tspan></text></g>

<g id="watermark">
<text class="wm" transform="translate(343,707) rotate(-32.7)"><tspan font-size="110">树图</tspan><tspan font-size="135"> shutu.cn</tspan></text>
<text class="wm" transform="translate(1630,707) rotate(-32.7)"><tspan font-size="110">树图</tspan><tspan font-size="135"> shutu.cn</tspan></text>
<text class="wm" transform="translate(343,1700) rotate(-32.7)"><tspan font-size="110">树图</tspan><tspan font-size="135"> shutu.cn</tspan></text>
<text class="wm" transform="translate(1630,1700) rotate(-32.7)"><tspan font-size="110">树图</tspan><tspan font-size="135"> shutu.cn</tspan></text>
<text class="wm" transform="translate(343,2700) rotate(-32.7)"><tspan font-size="110">树图</tspan><tspan font-size="135"> shutu.cn</tspan></text>
<text class="wm" transform="translate(1630,2700) rotate(-32.7)"><tspan font-size="110">树图</tspan><tspan font-size="135"> shutu.cn</tspan></text>
</g>
</svg>
